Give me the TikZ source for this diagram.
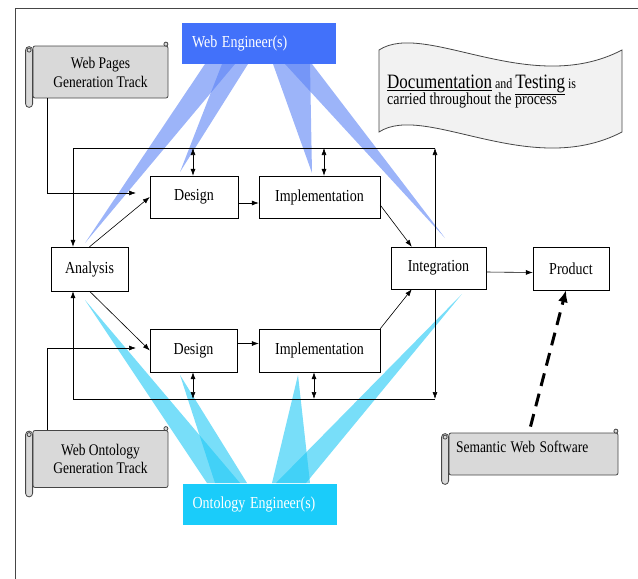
\documentclass[tikz,border=0pt]{standalone}
\usepackage{fontspec}
\setmainfont{Liberation Serif}
\usepackage{graphicx}
\usetikzlibrary{arrows.meta}
\usetikzlibrary{calc}

\definecolor{webblue}{RGB}{66,113,250}
\definecolor{webbeam}{RGB}{90,130,245}
\definecolor{ontocyan}{RGB}{26,204,250}
\definecolor{ontobeam}{RGB}{30,200,245}
\definecolor{scrollgray}{RGB}{217,217,217}
\definecolor{notegray}{RGB}{242,242,242}
\definecolor{edgegray}{RGB}{70,70,70}

% taller lettering, as in the figure
\newcommand{\tall}[1]{\scalebox{1}[1.2]{#1}}
% left roll and curls of a scroll node
\newcommand{\scrollroll}[1]{%
  \draw[scrolledge,rounded corners=3.5] ($(#1.north west)+(-7,1)$) rectangle ($(#1.south west)+(0,9)$);
  \draw[scrolledge] ($(#1.north west)+(-3.5,4.5)$) circle (2);
  \draw[scrolledge] ($(#1.north east)+(-2.5,-1.5)$) circle (2);
}

\begin{document}
\begin{tikzpicture}[x=1pt,y=1pt,yscale=-1,xscale=1,
  procbox/.style={draw, fill=white, minimum height=42, inner sep=0pt, font=\fontsize{14}{16}\selectfont},
  rolebox/.style={fill=#1, text=white, text width=134, inner xsep=10pt, inner ysep=0pt, minimum height=41, align=left, font=\fontsize{14}{16}\selectfont},
  scrollbody/.style={draw=edgegray, fill=scrollgray, line width=0.8, rounded corners=2, inner sep=0pt, align=center, font=\fontsize{13.5}{19}\selectfont},
  scrolledge/.style={draw=edgegray, fill=scrollgray, line width=0.8},
  flow/.style={-{Latex[length=7pt,width=5pt]}, line width=0.6},
  twoway/.style={{Latex[length=7pt,width=5pt]}-{Latex[length=7pt,width=5pt]}, line width=0.6},
  beamweb/.style={fill=webbeam, fill opacity=0.6},
  beamonto/.style={fill=ontobeam, fill opacity=0.6}]
\useasboundingbox (0,0) rectangle (638,579);

%Straight Lines [frame]
\draw [color=edgegray, line width=0.8] (15,579) -- (15,8) -- (638,8) ;

%Shape: Beams from Web Engineer(s)
\fill [beamweb] (205,64) -- (235,64) -- (85,243) -- cycle ;
\fill [beamweb] (222,64) -- (248,64) -- (180,172) -- cycle ;
\fill [beamweb] (273,64) -- (310,64) -- (312,173) -- cycle ;
\fill [beamweb] (285,64) -- (312,64) -- (445,238) -- cycle ;
%Shape: Beams from Ontology Engineer(s)
\fill [beamonto] (207,483) -- (240,483) -- (85,300) -- cycle ;
\fill [beamonto] (215,483) -- (247,483) -- (180,375) -- cycle ;
\fill [beamonto] (272,483) -- (310,483) -- (298,375) -- cycle ;
\fill [beamonto] (276,483) -- (306,483) -- (462,294) -- cycle ;

%Shape: Wave [note]
\draw [draw=edgegray, fill=notegray, line width=0.8] (379,50) .. controls (425,20) and (530,98) .. (622,50) -- (622,132) .. controls (530,180) and (425,102) .. (379,132) -- cycle ;

% Text Node
\node [anchor=base west, inner sep=0pt] (docline1) at (387,88) {\tall{{\fontsize{17}{19}\selectfont\underline{Documentation}}{\fontsize{12}{14}\selectfont\ and }{\fontsize{17}{19}\selectfont\underline{Testing}}{\fontsize{12}{14}\selectfont\ is}}};
% Text Node
\node [anchor=base west, inner sep=0pt] (docline2) at (387,104) {\tall{\fontsize{14}{16}\selectfont carried throughout the process}};

%Shape: Rectangle [roles]
\node [rolebox=webblue] (webeng) at (259,43.5) {\tall{Web Engineer(s)}};
\node [rolebox=ontocyan] (ontoeng) at (259.5,504) {\tall{Ontology Engineer(s)}};

%Shape: Scrolls
\node [scrollbody, minimum width=135, minimum height=52] (webtrack) at (100.5,72) {\tall{Web Pages}\\\tall{Generation Track}};
\scrollroll{webtrack}
\node [scrollbody, minimum width=135, minimum height=57, font=\fontsize{13.5}{18.5}\selectfont] (ontotrack) at (100.5,459) {\tall{Web Ontology}\\\tall{Generation Track}};
\scrollroll{ontotrack}
\node [scrollbody, minimum width=169, minimum height=42, text width=155, align=left, text depth=15pt] (semweb) at (533.5,454) {\tall{Semantic Web Software}};
\scrollroll{semweb}

%Shape: Rectangle [process]
\node [procbox, minimum width=77, minimum height=44] (analysis) at (89.5,269) {\tall{Analysis}};
\node [procbox, minimum width=88] (design1) at (194,197) {\tall{Design}};
\node [procbox, minimum width=121] (impl1) at (319.5,197) {\tall{Implementation}};
\node [procbox, minimum width=87, minimum height=43] (design2) at (193.5,350.5) {\tall{Design}};
\node [procbox, minimum width=121, minimum height=43] (impl2) at (319.5,350.5) {\tall{Implementation}};
\node [procbox, minimum width=95] (integ) at (438.5,268) {\tall{Integration}};
\node [procbox, minimum width=76, minimum height=43] (product) at (571,268.5) {\tall{Product}};

\coordinate (wpin) at (136,193);
\coordinate (wopin) at (136,348);
\coordinate (fbtl) at (73,148);
\coordinate (fbtr) at (435,148);
\coordinate (fbbl) at (73,399);
\coordinate (fbbr) at (435,399);

%Straight Lines [tracks]
\draw [flow] ($(webtrack.south west)+(15,0)$) |- (wpin) ;
\draw [flow] ($(ontotrack.north west)+(15,0)$) |- (wopin) ;

%Straight Lines [flow]
\draw [flow] (analysis.north) -- (design1.west) ;
\draw [flow] (analysis.south) -- (design2.west) ;
\draw [flow] ($(design1.east)+(0,6)$) -- ($(impl1.west)+(0,6)$) ;
\draw [flow] ($(design2.east)+(0,-7)$) -- ($(impl2.west)+(0,-7)$) ;
\draw [flow] ($(impl1.east)+(0,8)$) -- ($(integ.north west)+(21,0)$) ;
\draw [flow] (impl2.north east) -- ($(integ.south west)+(21,0)$) ;
\draw [flow] ($(integ.east)+(0,4)$) -- ($(product.west)+(0,4)$) ;

%Straight Lines [feedback]
\draw [flow] (integ.north -| fbtr) -- (fbtr) ;
\draw [flow] (fbtr) -- (fbtl) -- (fbtl |- analysis.north) ;
\draw [flow] (integ.south -| fbbr) -- (fbbr) ;
\draw [flow] (fbbr) -- (fbbl) -- (fbbl |- analysis.south) ;

%Straight Lines [two way]
\draw [twoway] ($(design1.north)+(-1,0)$) -- ($(design1.north |- fbtl)+(-1,0)$) ;
\draw [twoway] ($(impl1.north)+(4.5,0)$) -- ($(impl1.north |- fbtl)+(4.5,0)$) ;
\draw [twoway] ($(design2.south)+(-0.5,0)$) -- ($(design2.south |- fbbl)+(-0.5,0)$) ;
\draw [twoway] ($(impl2.south)+(-5.5,0)$) -- ($(impl2.south |- fbbl)+(-5.5,0)$) ;

%Straight Lines [dashed]
\draw [-{Latex[length=12pt,width=10pt]}, line width=3, dash pattern=on 13pt off 8pt] ($(semweb.north)+(-3,-6)$) -- ($(product.south)+(-5,0)$) ;

\end{tikzpicture}
\end{document}
